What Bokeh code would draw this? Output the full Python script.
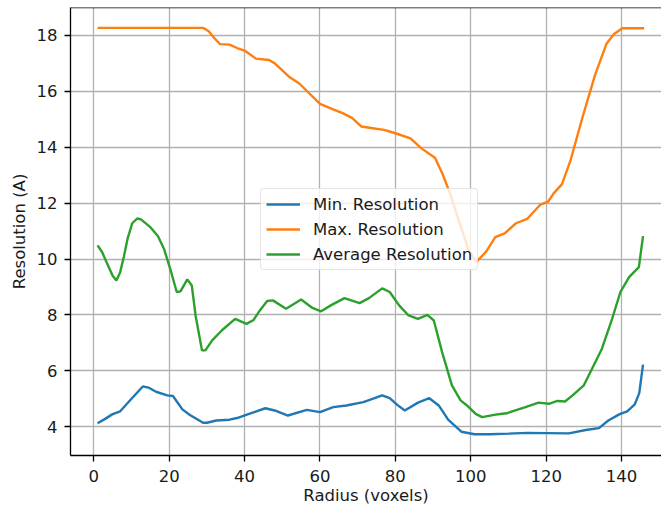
from bokeh.plotting import figure
from bokeh.models import Range1d, FixedTicker, Span
from bokeh.embed import file_html
from bokeh.resources import INLINE

# ---- data ----
min_x = [1, 3, 5, 7, 10, 13, 14.5, 16.5, 19.5, 21, 23.5, 25.5, 29, 30, 32.5, 36, 38, 41,
         45.5, 48, 51.5, 56.5, 60, 63.5, 67, 71.5, 74.5, 76.5, 78.5, 80.5, 82.5, 86, 89,
         91.5, 94, 97.5, 101, 105, 110, 115, 120, 126, 130.5, 134, 136.5, 139.5, 141.5,
         143.5, 144.7, 145.7]
min_y = [4.12, 4.28, 4.45, 4.55, 5.0, 5.44, 5.40, 5.25, 5.12, 5.10, 4.62, 4.42, 4.14, 4.14,
         4.22, 4.25, 4.31, 4.45, 4.66, 4.58, 4.40, 4.60, 4.52, 4.70, 4.76, 4.88, 5.02, 5.12,
         5.02, 4.78, 4.58, 4.86, 5.02, 4.76, 4.25, 3.82, 3.73, 3.73, 3.75, 3.78, 3.77, 3.76,
         3.88, 3.95, 4.22, 4.45, 4.55, 4.80, 5.20, 6.22]

max_x = [1, 29, 30.5, 32, 33.5, 36, 38, 40, 43, 46.5, 48, 50, 52, 54.5, 57, 60, 63, 66,
         68.5, 71, 74, 77, 80, 84, 87, 90.5, 92.5, 94.5, 97, 99.5, 101.5, 104, 106.5, 109,
         112, 115, 118.5, 120.5, 122, 124.2, 126.4, 129.5, 133, 136, 138, 140.2, 146]
max_y = [18.27, 18.27, 18.15, 17.9, 17.69, 17.67, 17.55, 17.46, 17.17, 17.12, 17.0, 16.75,
         16.5, 16.28, 15.95, 15.55, 15.38, 15.22, 15.05, 14.74, 14.68, 14.62, 14.50, 14.32,
         13.95, 13.62, 13.05, 12.35, 11.3, 10.3, 9.9, 10.25, 10.78, 10.92, 11.28, 11.44,
         11.95, 12.05, 12.35, 12.68, 13.5, 15.0, 16.6, 17.7, 18.05, 18.26, 18.26]

avg_x = [1, 2.2, 3.5, 5, 6, 7, 8, 9, 10.2, 11.5, 12.5, 15, 17, 18.6, 20.4, 22, 23, 24.8, 26,
         27, 28.7, 29.6, 31.4, 34, 37.5, 40.5, 42.4, 44, 46, 47.5, 51, 55, 58, 60.3, 63,
         66.5, 70.5, 73, 76.5, 78.5, 81, 83.5, 86, 88.5, 90.2, 92.4, 95, 97.3, 99, 101.3,
         103, 106.6, 109.5, 114.5, 118, 120.7, 123, 125, 127, 130, 132.6, 134.8, 137.5,
         139.7, 142, 144.6, 145.7]
avg_y = [10.49, 10.25, 9.85, 9.4, 9.23, 9.53, 10.1, 10.75, 11.28, 11.45, 11.42, 11.14, 10.82,
         10.37, 9.59, 8.82, 8.84, 9.27, 9.05, 7.98, 6.73, 6.73, 7.09, 7.45, 7.86, 7.68, 7.82,
         8.15, 8.5, 8.52, 8.22, 8.55, 8.25, 8.13, 8.35, 8.6, 8.42, 8.6, 8.95, 8.82, 8.34,
         7.98, 7.86, 8.0, 7.8, 6.67, 5.48, 4.94, 4.76, 4.46, 4.34, 4.43, 4.48, 4.70, 4.86,
         4.82, 4.92, 4.90, 5.12, 5.48, 6.19, 6.79, 7.86, 8.82, 9.35, 9.71, 10.82]

x_ticks = [0, 20, 40, 60, 80, 100, 120, 140]
y_ticks = [4, 6, 8, 10, 12, 14, 16, 18]

FONT = "DejaVu Sans"
FS = "16.5px"

p = figure(width=661, height=508, output_backend="svg", toolbar_location=None,
           x_range=Range1d(-6.18, 150.6), y_range=Range1d(2.969, 19.0),
           min_border_left=70, min_border_right=0, min_border_top=7, min_border_bottom=53)
p.outline_line_color = None
p.outline_line_alpha = 0
p.background_fill_color = "white"
p.border_fill_color = "white"

p.line(min_x, min_y, line_color="#1f77b4", line_width=2.4, legend_label="Min. Resolution")
p.line(max_x, max_y, line_color="#ff7f0e", line_width=2.4, legend_label="Max. Resolution")
p.line(avg_x, avg_y, line_color="#2ca02c", line_width=2.4, legend_label="Average Resolution")

p.add_layout(Span(location=19.0, dimension="width", line_color="black", line_width=1.5))

for ax, ticks in ((p.xaxis[0], x_ticks), (p.yaxis[0], y_ticks)):
    ax.ticker = FixedTicker(ticks=ticks)
    ax.axis_line_color = "black"
    ax.axis_line_width = 1.3
    ax.major_tick_in = 0
    ax.major_tick_out = 6
    ax.major_tick_line_color = "black"
    ax.major_tick_line_width = 1.3
    ax.minor_tick_line_color = None
    ax.major_label_text_font = FONT
    ax.major_label_text_font_size = FS
    ax.major_label_text_color = "#1a1a1a"
    ax.axis_label_text_font = FONT
    ax.axis_label_text_font_size = FS
    ax.axis_label_text_font_style = "normal"
    ax.axis_label_text_color = "#1a1a1a"

p.xaxis.axis_label = "Radius (voxels)"
p.yaxis.axis_label = "Resolution (A)"
p.xaxis.major_label_standoff = 8
p.xaxis.axis_label_standoff = 1
p.yaxis.major_label_standoff = 7
p.yaxis.axis_label_standoff = 5

for g in (p.xgrid[0], p.ygrid[0]):
    g.grid_line_color = "#b0b0b0"
    g.grid_line_width = 1.3

lg = p.legend[0]
lg.location = (190, 185)
lg.label_text_font = FONT
lg.label_text_font_size = FS
lg.label_text_color = "#1a1a1a"
lg.glyph_width = 34
lg.glyph_height = 20
lg.label_height = 20
lg.label_standoff = 13
lg.spacing = 5
lg.padding = 5
lg.margin = 0
lg.border_line_color = "#cccccc"
lg.border_line_width = 1
lg.background_fill_color = "white"
lg.background_fill_alpha = 0.8
if "border_radius" in lg.properties():
    lg.border_radius = 4

open("out.html", "w").write(file_html(p, INLINE))
